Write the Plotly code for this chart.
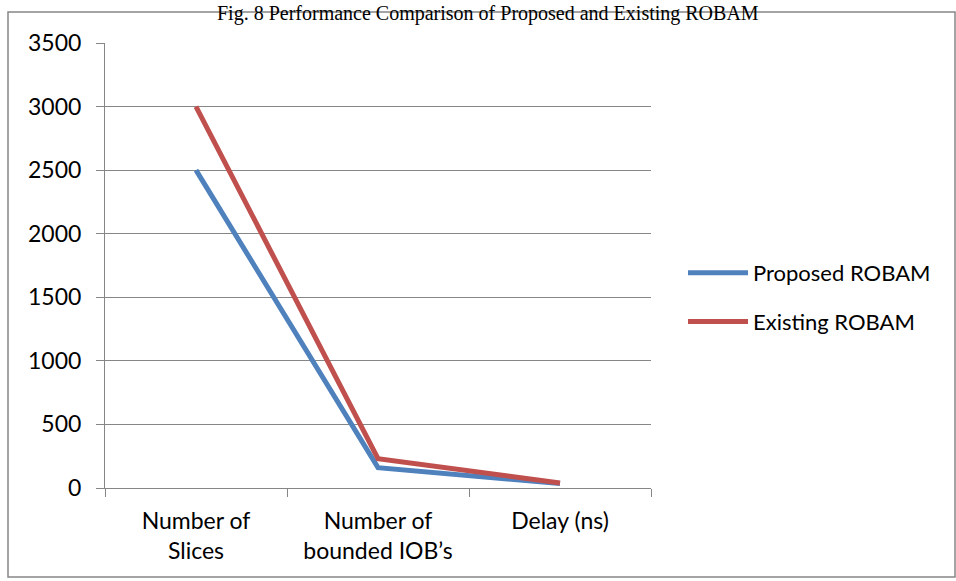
import plotly.graph_objects as go

categories = ["Number of<br>Slices", "Number of<br>bounded IOB’s", "Delay (ns)"]
proposed = [2500, 160, 35]
existing = [3000, 230, 40]
y_ticks = [0, 500, 1000, 1500, 2000, 2500, 3000, 3500]

W, H = 956, 581
L, R, T, B = 105, 651, 43, 488

def px(x):
    return (x - L) / (R - L)

def py(y):
    return (B - y) / (B - T)

fig = go.Figure()
fig.add_trace(go.Scatter(x=categories, y=proposed, mode="lines", name="Proposed ROBAM",
                         legendgroup="a", line=dict(color="#4F81BD", width=5)))
fig.add_trace(go.Scatter(x=categories, y=existing, mode="lines", name="Existing ROBAM",
                         legendgroup="b", line=dict(color="#C0504D", width=5)))

fig.update_layout(
    width=W, height=H,
    margin=dict(l=L, r=W - R, t=T, b=H - B, autoexpand=False),
    plot_bgcolor="white", paper_bgcolor="white",
    font=dict(family="Lato, Open Sans, sans-serif", size=23, color="#000000"),
    showlegend=True,
    legend=dict(x=px(683), y=py(252), xanchor="left", yanchor="top",
                font=dict(size=22), tracegroupgap=17, itemwidth=60,
                bgcolor="rgba(0,0,0,0)"),
    xaxis=dict(showgrid=False, showline=True, linecolor="#868686", linewidth=1,
               ticks="outside", tickson="boundaries", ticklen=8, tickcolor="#868686",
               ticklabelstandoff=12, range=[-0.5, 2.5], fixedrange=True),
    yaxis=dict(range=[0, 3500], tickvals=y_ticks, showgrid=True, gridcolor="#868686",
               gridwidth=1, showline=True, linecolor="#868686", linewidth=1,
               ticks="outside", ticklen=8, tickcolor="#868686", zeroline=False,
               ticklabelstandoff=10),
    shapes=[dict(type="rect", xref="paper", yref="paper",
                 x0=px(8), x1=px(955), y0=py(577), y1=py(12),
                 line=dict(color="#868686", width=1.5), fillcolor="rgba(0,0,0,0)")],
    annotations=[dict(text="Fig. 8 Performance Comparison of Proposed and Existing ROBAM",
                      xref="paper", yref="paper", x=px(488), y=py(0), xanchor="center",
                      yanchor="top", showarrow=False,
                      font=dict(family="Liberation Serif, Times New Roman, serif", size=20))],
)

fig.write_html("out.html", config={"displayModeBar": False},
               post_script="document.body.style.margin='0';document.body.style.padding='0';")
